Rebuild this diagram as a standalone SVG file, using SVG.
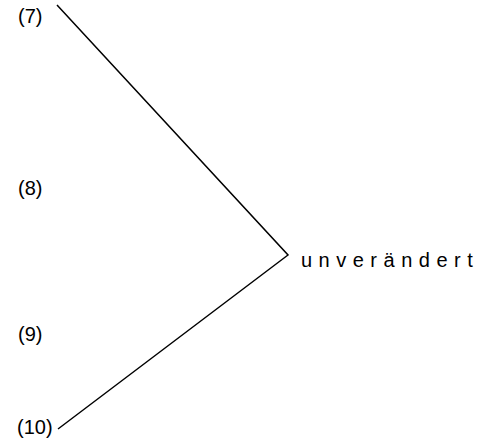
<svg xmlns="http://www.w3.org/2000/svg" width="480" height="443" viewBox="0 0 480 443">
<style>
text{font-family:"Liberation Sans",Arial,sans-serif;font-size:20px;fill:#000}
.c{fill:none;stroke:#000;stroke-width:1.5}
</style>
<rect width="480" height="443" fill="#fff"/>
<g id="connectors">
<polyline class="c" points="57,5 288,255 58,429"/>
</g>
<g id="n7"><text x="18" y="23">(7)</text></g>
<g id="n8"><text x="18" y="195">(8)</text></g>
<g id="n9"><text x="18" y="341">(9)</text></g>
<g id="n10"><text x="17" y="434">(10)</text></g>
<g id="result"><text x="301" y="267" letter-spacing="6.5">unverändert</text></g>
</svg>
